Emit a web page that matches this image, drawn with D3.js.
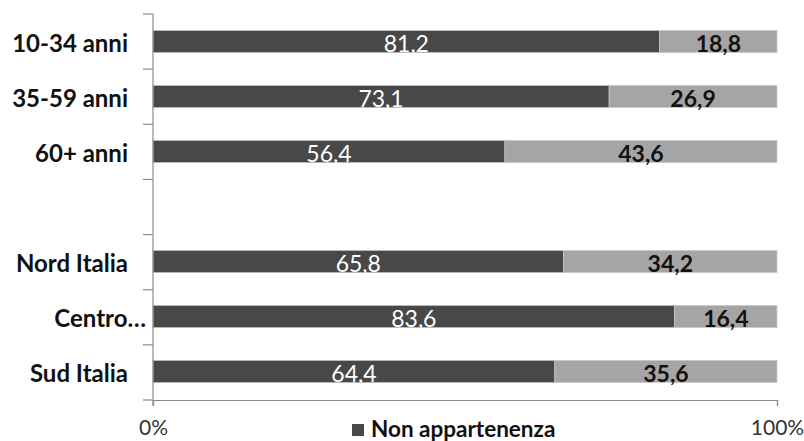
<!DOCTYPE html>
<html>
<head>
<meta charset="utf-8">
<script src="https://cdn.jsdelivr.net/npm/d3@7"></script>
<style>
  html, body { margin: 0; padding: 0; background: #fff; }
  svg { display: block; }
  text { font-family: Lato, "Open Sans", sans-serif; }
</style>
</head>
<body>
<svg id="chart" width="804" height="441"></svg>
<script>
// Categories (an empty slot separates age groups from regions)
const categories = ["10-34 anni", "35-59 anni", "60+ anni", "", "Nord Italia", "Centro…", "Sud Italia"];
const nonAppartenenza = [81.2, 73.1, 56.4, null, 65.8, 83.6, 64.4];
const appartenenza    = [18.8, 26.9, 43.6, null, 34.2, 16.4, 35.6];
const xTicks = [0, 100];
const legendLabel = "Non appartenenza";

const svg = d3.select("#chart");
const margin = { left: 153, right: 27, top: 14, bottom: 42 };
const W = 804, H = 441;

const keys = categories.map((c, i) => c === "" ? "__gap" + i : c);

const x = d3.scaleLinear().domain([0, 100]).range([margin.left, W - margin.right]);
const y = d3.scaleBand().domain(keys).range([margin.top, H - margin.bottom]).paddingInner(0.6).paddingOuter(0.3);

const rows = keys.map((k, i) => ({ key: k, label: categories[i], a: nonAppartenenza[i], b: appartenenza[i] }))
  .filter(d => d.a != null);

const colDark = "#484848", colLight = "#a5a5a5";
const fmt = v => v.toFixed(1).replace(".", ",");

// Stacked bars with value labels
const g = svg.append("g");
rows.forEach(d => {
  g.append("rect")
    .attr("x", x(0)).attr("y", y(d.key))
    .attr("width", x(d.a) - x(0)).attr("height", y.bandwidth())
    .attr("fill", colDark).attr("stroke", "#bdbdbd").attr("stroke-width", 0.8);
  g.append("rect")
    .attr("x", x(d.a)).attr("y", y(d.key))
    .attr("width", x(d.a + d.b) - x(d.a)).attr("height", y.bandwidth())
    .attr("fill", colLight).attr("stroke", "#c8c8c8").attr("stroke-width", 0.8);

  const cy = y(d.key) + y.bandwidth() / 2 + 1;
  g.append("text")
    .attr("x", (x(0) + x(d.a)) / 2).attr("y", cy)
    .attr("text-anchor", "middle").attr("dominant-baseline", "central")
    .attr("font-size", 23).attr("fill", "#fff")
    .text(fmt(d.a));
  g.append("text")
    .attr("x", (x(d.a) + x(d.a + d.b)) / 2).attr("y", cy)
    .attr("text-anchor", "middle").attr("dominant-baseline", "central")
    .attr("font-size", 23).attr("font-weight", "bold").attr("fill", "#111")
    .text(fmt(d.b));
});

// Vertical category axis with ticks at band boundaries
const axisColor = "#8c8c8c";
const yBottom = H - margin.bottom + 1;
svg.append("line")
  .attr("x1", x(0)).attr("x2", x(0))
  .attr("y1", margin.top).attr("y2", yBottom + 6)
  .attr("stroke", axisColor).attr("stroke-width", 1.2);
for (let i = 0; i <= keys.length; i++) {
  const yy = margin.top + i * (yBottom - margin.top) / keys.length;
  svg.append("line")
    .attr("x1", x(0) - 10).attr("x2", x(0))
    .attr("y1", yy).attr("y2", yy)
    .attr("stroke", axisColor).attr("stroke-width", 1.2);
}

// Category labels
rows.forEach(d => {
  const trunc = d.label.endsWith("…");
  svg.append("text")
    .attr("x", trunc ? x(0) - 7 : x(0) - 25)
    .attr("y", y(d.key) + y.bandwidth() / 2 + 1)
    .attr("text-anchor", "end").attr("dominant-baseline", "central")
    .attr("font-size", 24).attr("font-weight", "bold").attr("fill", "#111")
    .text(d.label);
});

// Horizontal value axis
const xAxis = d3.axisBottom(x).tickValues(xTicks).tickSize(6).tickFormat(v => v + "%");
const ax = svg.append("g").attr("transform", `translate(0,${yBottom})`).call(xAxis);
ax.select(".domain").attr("stroke", axisColor).attr("stroke-width", 1.2);
ax.selectAll(".tick line").attr("stroke", axisColor).attr("stroke-width", 1.2);
ax.selectAll(".tick text")
  .attr("font-family", "Lato, 'Open Sans', sans-serif")
  .attr("font-size", 21).attr("fill", "#333")
  .attr("y", 35).attr("dy", null);

// Legend
const lg = svg.append("g").attr("transform", "translate(352,424)");
lg.append("rect").attr("width", 12).attr("height", 12).attr("fill", colDark);
lg.append("text")
  .attr("x", 19).attr("y", 13)
  .attr("font-size", 22.5).attr("font-weight", "bold").attr("fill", "#111")
  .text(legendLabel);
</script>
</body>
</html>
